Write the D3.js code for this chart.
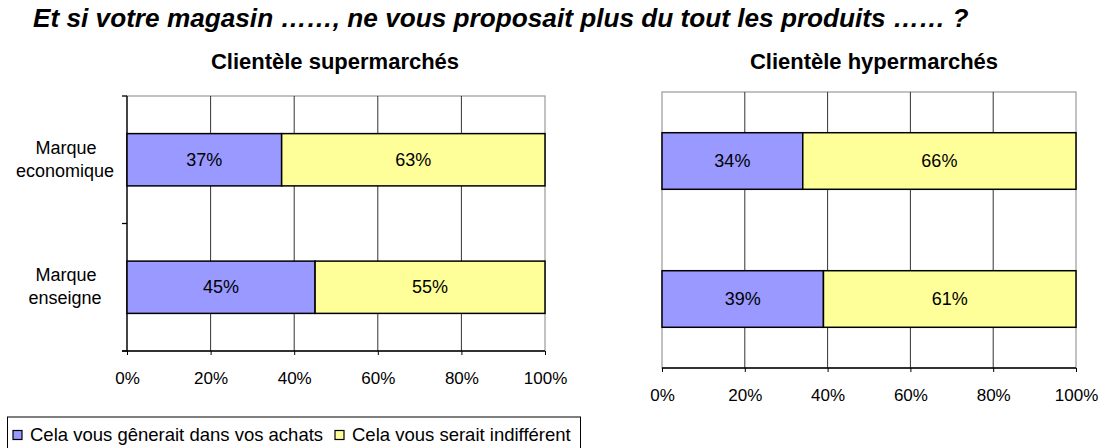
<!DOCTYPE html>
<html>
<head>
<meta charset="utf-8">
<script src="https://cdn.jsdelivr.net/npm/d3@7"></script>
<style>
body { margin: 0; background: #fff; }
text { font-family: "Liberation Sans", Arial, sans-serif; fill: #000; }
</style>
</head>
<body>
<svg width="1102" height="448"></svg>
<script>
var categories = ["Marque economique", "Marque enseigne"];
var seriesNames = ["Cela vous gênerait dans vos achats", "Cela vous serait indifférent"];
var superGene = [37, 45];
var superIndiff = [63, 55];
var hyperGene = [34, 39];
var hyperIndiff = [66, 61];
var tickValues = [0, 20, 40, 60, 80, 100];
var colors = ["#9999ff", "#ffff99"];

var svg = d3.select("svg");

svg.append("text")
  .attr("x", 33).attr("y", 27)
  .attr("font-size", 26.2).attr("font-weight", "bold").attr("font-style", "italic")
  .text("Et si votre magasin ……, ne vous proposait plus du tout les produits …… ?");

function drawChart(opts) {
  var m = opts.box;
  var g = svg.append("g");
  var x = d3.scaleLinear().domain([0, 100]).range([m.left, m.right]);
  var y = d3.scaleBand().domain(categories).range([m.top, m.bottom]).paddingInner(0.59).paddingOuter(0.295);

  g.append("text")
    .attr("x", opts.titleX).attr("y", 69)
    .attr("text-anchor", "middle").attr("font-size", 22).attr("font-weight", "bold")
    .text(opts.title);

  // cadre du graphique
  g.append("rect")
    .attr("x", m.left).attr("y", m.top)
    .attr("width", m.right - m.left).attr("height", m.bottom - m.top)
    .attr("fill", "none").attr("stroke", "#999").attr("stroke-width", 1.2);

  // quadrillage vertical
  g.selectAll(".grid").data(tickValues.slice(1, -1)).enter().append("line")
    .attr("x1", d => x(d)).attr("x2", d => x(d))
    .attr("y1", m.top).attr("y2", m.bottom)
    .attr("stroke", "#333").attr("stroke-width", 1);

  var xAxis = d3.axisBottom(x).tickValues(tickValues).tickFormat(d => d + "%").tickSize(4).tickSizeOuter(0);
  var ax = g.append("g").attr("transform", "translate(0," + m.bottom + ")").call(xAxis);
  ax.select(".domain").attr("stroke", "#000").attr("stroke-width", 1.3)
    .attr("d", "M" + (opts.showCats ? m.left - 5 : m.left) + ",0H" + m.right);
  ax.selectAll(".tick line").attr("stroke", "#000");
  ax.selectAll(".tick text").attr("font-size", 17).attr("fill", "#000")
    .attr("dy", null).attr("y", opts.labelDy).attr("font-family", "Liberation Sans, Arial, sans-serif");

  if (opts.showCats) {
    g.append("line")
      .attr("x1", m.left).attr("x2", m.left).attr("y1", m.top).attr("y2", m.bottom)
      .attr("stroke", "#000").attr("stroke-width", 1.3);
    var bounds = [m.top, (m.top + m.bottom) / 2, m.bottom];
    g.selectAll(".ctick").data(bounds).enter().append("line")
      .attr("x1", m.left - 5).attr("x2", m.left)
      .attr("y1", d => d).attr("y2", d => d)
      .attr("stroke", "#000").attr("stroke-width", 1.3);
    categories.forEach(function (c) {
      var words = c.split(" ");
      var cy = y(c) + y.bandwidth() / 2;
      var t = g.append("text")
        .attr("text-anchor", "middle").attr("font-size", 18);
      t.append("tspan").attr("x", 66).attr("y", cy - 6).text(words[0]);
      t.append("tspan").attr("x", 65).attr("y", cy + 17).text(words[1]);
    });
  }

  var stacked = categories.map(function (c, i) {
    return [
      { cat: c, x0: 0, x1: opts.gene[i], v: opts.gene[i], color: colors[0] },
      { cat: c, x0: opts.gene[i], x1: 100, v: opts.indiff[i], color: colors[1] }
    ];
  }).flat();

  g.selectAll(".seg").data(stacked).enter().append("rect")
    .attr("x", d => x(d.x0)).attr("y", d => y(d.cat))
    .attr("width", d => x(d.x1) - x(d.x0)).attr("height", y.bandwidth())
    .attr("fill", d => d.color).attr("stroke", "#000").attr("stroke-width", 1.5);

  g.selectAll(".lbl").data(stacked).enter().append("text")
    .attr("x", d => (x(d.x0) + x(d.x1)) / 2).attr("y", d => y(d.cat) + y.bandwidth() / 2 + 6)
    .attr("text-anchor", "middle").attr("font-size", 18)
    .text(d => d.v + "%");
}

drawChart({
  box: { left: 127, right: 545, top: 96, bottom: 351 },
  title: "Clientèle supermarchés", titleX: 335,
  gene: superGene, indiff: superIndiff, showCats: true, labelDy: 33
});

drawChart({
  box: { left: 662, right: 1076, top: 92, bottom: 368 },
  title: "Clientèle hypermarchés", titleX: 874,
  gene: hyperGene, indiff: hyperIndiff, showCats: false, labelDy: 33
});

// légende
var leg = svg.append("g");
leg.append("rect").attr("x", 7.5).attr("y", 417).attr("width", 573).attr("height", 40)
  .attr("fill", "#fff").attr("stroke", "#000").attr("stroke-width", 1);
var legX = [13, 335];
seriesNames.forEach(function (s, i) {
  leg.append("rect").attr("x", legX[i]).attr("y", 430.5).attr("width", 9).attr("height", 9)
    .attr("fill", colors[i]).attr("stroke", "#000").attr("stroke-width", 1.2);
  leg.append("text").attr("x", legX[i] + 17).attr("y", 441).attr("font-size", 18.5).text(s);
});
</script>
</body>
</html>
